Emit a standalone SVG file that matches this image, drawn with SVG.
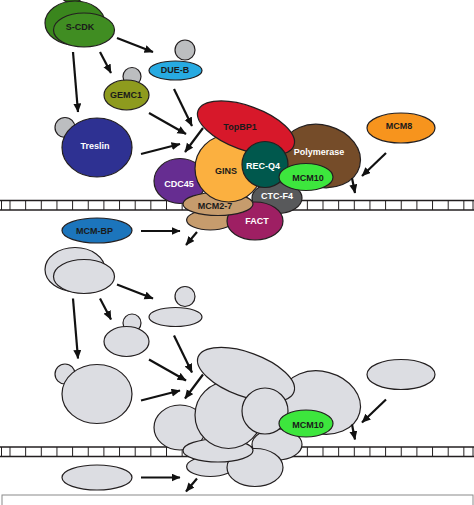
<svg xmlns="http://www.w3.org/2000/svg" width="474" height="505" viewBox="0 0 474 505">
<defs>
<style>
.s{stroke:#231F20;stroke-width:1.2}
.sm{fill:#BCBEC0}
.g{fill:#DCDDE2}
.dna{stroke:#231F20;stroke-width:1.4;fill:none}
.tk{stroke:#231F20;stroke-width:1}
.arr{stroke:#111;stroke-width:2.2;fill:none;marker-end:url(#ah)}
text{font-family:"Liberation Sans",Arial,sans-serif;font-weight:bold;font-size:9px;text-anchor:middle;dominant-baseline:central}
.w{fill:#fff}
.d{fill:#1a1a1a}
</style>
<marker id="ah" markerUnits="userSpaceOnUse" markerWidth="10" markerHeight="9" refX="8.5" refY="4" orient="auto">
<path d="M0,0 L9,4 L0,8 z" fill="#111"/>
</marker>
<pattern id="ticks" patternUnits="userSpaceOnUse" x="9.5" y="0" width="15.65" height="505">
<line x1="0.5" y1="0" x2="0.5" y2="505" stroke="#231F20" stroke-width="1"/>
</pattern>
</defs>
<rect width="474" height="505" fill="#fff"/>

<g id="dna-top">
<rect x="0" y="200.5" width="474" height="9.5" fill="url(#ticks)"/>
<line class="tk" x1="1.5" y1="200.5" x2="1.5" y2="210"/>
<line class="tk" x1="473" y1="200.5" x2="473" y2="210"/>
<line class="dna" x1="0" y1="200.5" x2="474" y2="200.5"/>
<line class="dna" x1="0" y1="210" x2="474" y2="210"/>
</g>
<g id="dna-bottom">
<rect x="0" y="447" width="474" height="9.5" fill="url(#ticks)"/>
<line class="tk" x1="1.5" y1="447" x2="1.5" y2="456.5"/>
<line class="tk" x1="473" y1="447" x2="473" y2="456.5"/>
<line class="dna" x1="0" y1="447" x2="474" y2="447"/>
<line class="dna" x1="0" y1="456.5" x2="474" y2="456.5"/>
</g>

<!-- top, coloured -->
<g id="s-cdk">
<ellipse class="s" cx="72" cy="-4" rx="10" ry="7" fill="#2A6A12"/>
<ellipse class="s" cx="75" cy="23" rx="30" ry="22" fill="#3A861D"/>
<ellipse class="s" cx="84" cy="30" rx="30.5" ry="17" fill="#408D22"/>
<text class="d" x="80" y="27">S-CDK</text>
</g>
<g id="due-b">
<circle class="s sm" cx="185" cy="50" r="10"/>
<ellipse class="s" cx="175.5" cy="70.5" rx="26.5" ry="9.5" fill="#27AAE1"/>
<text class="d" x="175" y="70">DUE-B</text>
</g>
<g id="gemc1">
<circle class="s sm" cx="132" cy="76.5" r="9"/>
<ellipse class="s" cx="126.5" cy="95" rx="22.5" ry="15" fill="#8E9B1E"/>
<text class="d" x="126" y="95">GEMC1</text>
</g>
<g id="treslin">
<circle class="s sm" cx="65" cy="127.5" r="10"/>
<ellipse class="s" cx="97" cy="147.5" rx="35" ry="29.5" fill="#2E3192"/>
<text class="w" x="95" y="146">Treslin</text>
</g>
<g id="mcm8">
<ellipse class="s" cx="401" cy="128" rx="34" ry="15" fill="#F7941D"/>
<text class="d" x="399" y="125.5">MCM8</text>
</g>
<g id="mcm-bp">
<ellipse class="s" cx="97" cy="230.5" rx="35" ry="12.5" fill="#1C75BC"/>
<text class="d" x="94.5" y="230.5">MCM-BP</text>
</g>
<g id="polymerase">
<ellipse class="s" cx="321" cy="156" rx="40" ry="31" transform="rotate(15 321 156)" fill="#754C29"/>
<text class="w" x="319" y="152">Polymerase</text>
</g>
<g id="ctc-f4">
<ellipse class="s" cx="277" cy="198" rx="25" ry="15.5" fill="#58595B"/>
<text class="w" x="277" y="196">CTC-F4</text>
</g>
<g id="mcm2-7">
<ellipse class="s" cx="210.3" cy="220" rx="23.7" ry="10" fill="#C69C6D"/>
<g id="fact">
<ellipse class="s" cx="255" cy="221" rx="28" ry="19" fill="#9E1F63"/>
<text class="w" x="257" y="220.5">FACT</text>
</g>
<g id="cdc45">
<ellipse class="s" cx="180" cy="181" rx="26" ry="22.5" fill="#662D91"/>
<text class="w" x="179" y="184">CDC45</text>
</g>
<ellipse class="s" cx="218" cy="204" rx="35" ry="11.5" fill="#C69C6D"/>
<text class="d" x="215" y="206">MCM2-7</text>
</g>
<g id="gins">
<ellipse class="s" cx="228.5" cy="168.5" rx="33.5" ry="33.5" fill="#FBB040"/>
<text class="d" x="226" y="171">GINS</text>
</g>
<g id="topbp1">
<ellipse class="s" cx="246" cy="128" rx="51" ry="22" transform="rotate(20 246 128)" fill="#D7182A"/>
<text class="d" x="240" y="127">TopBP1</text>
</g>
<g id="rec-q4">
<circle class="s" cx="265" cy="164.5" r="23" fill="#00584D"/>
<text class="w" x="263" y="166">REC-Q4</text>
</g>
<g id="mcm10">
<ellipse class="s" cx="306" cy="177" rx="27" ry="13.5" fill="#3DE63D"/>
<text class="d" x="308" y="178">MCM10</text>
</g>

<!-- bottom, grey -->
<g id="b-s-cdk">
<ellipse class="s g" cx="75" cy="269.5" rx="30" ry="22"/>
<ellipse class="s g" cx="84" cy="276.5" rx="30.5" ry="17"/>
</g>
<g id="b-due-b">
<circle class="s g" cx="185" cy="296.5" r="10"/>
<ellipse class="s g" cx="175.5" cy="317" rx="26.5" ry="9.5"/>
</g>
<g id="b-gemc1">
<circle class="s g" cx="132" cy="323" r="9"/>
<ellipse class="s g" cx="126.5" cy="341.5" rx="22.5" ry="15"/>
</g>
<g id="b-treslin">
<circle class="s g" cx="65" cy="374" r="10"/>
<ellipse class="s g" cx="97" cy="394" rx="35" ry="29.5"/>
</g>
<g id="b-mcm8">
<ellipse class="s g" cx="401" cy="374.5" rx="34" ry="15"/>
</g>
<g id="b-mcm-bp">
<ellipse class="s g" cx="97" cy="477.5" rx="35" ry="12.5"/>
</g>
<g id="b-polymerase">
<ellipse class="s g" cx="321" cy="402.5" rx="40" ry="31" transform="rotate(15 321 402.5)"/>
</g>
<g id="b-ctc-f4">
<ellipse class="s g" cx="277" cy="444.5" rx="25" ry="15.5"/>
</g>
<g id="b-mcm2-7">
<ellipse class="s g" cx="210.3" cy="466.5" rx="23.7" ry="10"/>
<g id="b-fact">
<ellipse class="s g" cx="255" cy="467.5" rx="28" ry="19"/>
</g>
<g id="b-cdc45">
<ellipse class="s g" cx="180" cy="427.5" rx="26" ry="22.5"/>
</g>
<ellipse class="s g" cx="218" cy="450.5" rx="35" ry="11.5"/>
</g>
<g id="b-gins">
<ellipse class="s g" cx="228.5" cy="415" rx="33.5" ry="33.5"/>
</g>
<g id="b-topbp1">
<ellipse class="s g" cx="246" cy="374.5" rx="51" ry="22" transform="rotate(20 246 374.5)"/>
</g>
<g id="b-rec-q4">
<circle class="s g" cx="265" cy="411" r="23"/>
</g>
<g id="b-mcm10">
<ellipse class="s" cx="306" cy="423.5" rx="27" ry="13.5" fill="#3DE63D"/>
<text class="d" x="308" y="424.5">MCM10</text>
</g>

<g id="connectors">
<line class="arr" x1="117" y1="38" x2="153" y2="52"/>
<line class="arr" x1="100" y1="52" x2="111" y2="73"/>
<line class="arr" x1="73" y1="52" x2="78" y2="112"/>
<line class="arr" x1="174" y1="89" x2="192" y2="126"/>
<line class="arr" x1="149" y1="113" x2="186" y2="134"/>
<line class="arr" x1="141" y1="154" x2="180" y2="144"/>
<line class="arr" x1="203" y1="128" x2="185" y2="152"/>
<line class="arr" x1="386" y1="153" x2="362" y2="176"/>
<line class="arr" x1="352" y1="178" x2="355" y2="193"/>
<line class="arr" x1="141" y1="231" x2="180" y2="231"/>
<line class="arr" x1="197" y1="232" x2="186" y2="245"/>

<line class="arr" x1="117" y1="284.5" x2="153" y2="298.5"/>
<line class="arr" x1="100" y1="298.5" x2="111" y2="319.5"/>
<line class="arr" x1="73" y1="298.5" x2="78" y2="358.5"/>
<line class="arr" x1="174" y1="335.5" x2="192" y2="372.5"/>
<line class="arr" x1="149" y1="359.5" x2="186" y2="380.5"/>
<line class="arr" x1="141" y1="400.5" x2="180" y2="390.5"/>
<line class="arr" x1="203" y1="374.5" x2="185" y2="398.5"/>
<line class="arr" x1="386" y1="399.5" x2="362" y2="422.5"/>
<line class="arr" x1="352" y1="424.5" x2="355" y2="439.5"/>
<line class="arr" x1="141" y1="477.5" x2="180" y2="477.5"/>
<line class="arr" x1="197" y1="478.5" x2="186" y2="491.5"/>
</g>

<rect x="2" y="495" width="471" height="20" fill="#fff" stroke="#8a8a8a" stroke-width="1"/>
</svg>
